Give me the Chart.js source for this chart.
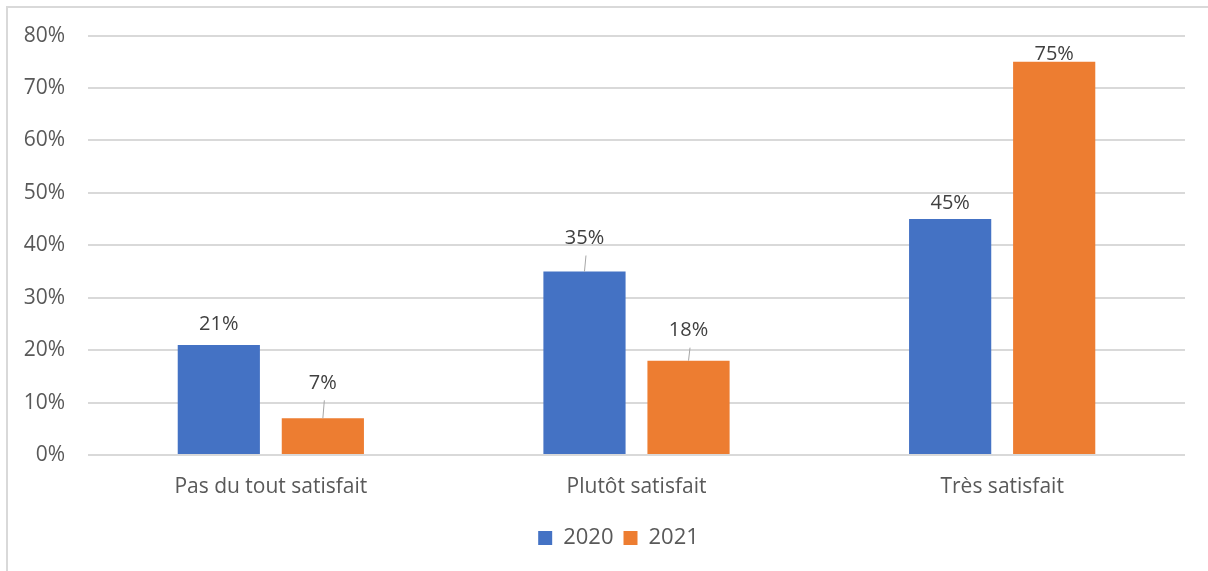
<!DOCTYPE html>
<html>
<head>
<meta charset="utf-8">
<script src="https://cdn.jsdelivr.net/npm/chart.js@4"></script>
<style>
  body { margin: 0; background: #fff; overflow: hidden; }
  #frame {
    position: absolute; left: 6px; top: 6px; width: 1210px; height: 570px;
    border-left: 2px solid #d9d9d9; border-top: 2px solid #d9d9d9;
  }
  #wrap { position: absolute; left: 0; top: 0; width: 1208px; height: 571px; }
</style>
</head>
<body>
<div id="frame"></div>
<div id="wrap"><canvas id="satChart"></canvas></div>
<script>
const categories = ['Pas du tout satisfait', 'Plutôt satisfait', 'Très satisfait'];
const years = ['2020', '2021'];
const values2020 = [21, 35, 45];
const values2021 = [7, 18, 75];
const yTicks = [0, 10, 20, 30, 40, 50, 60, 70, 80];

const colors = ['#4472C4', '#ED7D31'];
// how far each value label sits above its bar (px), per series
const labelLift = [[21, 33, 16], [35, 30, 8]];
const legendOffset = 26;

const FONT = '"Open Sans", "Noto Sans", sans-serif';

const valueLabels = {
  id: 'valueLabels',
  afterDatasetsDraw(chart) {
    const ctx = chart.ctx;
    ctx.save();
    ctx.font = '20px ' + FONT;
    ctx.fillStyle = '#404040';
    ctx.textAlign = 'center';
    ctx.textBaseline = 'middle';
    chart.data.datasets.forEach((ds, di) => {
      chart.getDatasetMeta(di).data.forEach((bar, i) => {
        const lift = labelLift[di][i];
        const y = bar.y - lift;
        if (lift > 25) {
          // leader line from label down to the bar
          ctx.beginPath();
          ctx.strokeStyle = '#a6a6a6';
          ctx.lineWidth = 1;
          ctx.moveTo(bar.x + 1.5, y + 17);
          ctx.lineTo(bar.x, bar.y);
          ctx.stroke();
        }
        ctx.fillText(ds.data[i] + '%', bar.x, y);
      });
    });
    ctx.restore();
  }
};

// nudge the legend right so it sits under the plot area
const legendShift = {
  id: 'legendShift',
  afterLayout(chart) {
    chart.legend.left += legendOffset;
    chart.legend.right += legendOffset;
  }
};

new Chart(document.getElementById('satChart'), {
  type: 'bar',
  data: {
    labels: categories,
    datasets: [
      { label: years[0], data: values2020, backgroundColor: colors[0] },
      { label: years[1], data: values2021, backgroundColor: colors[1] }
    ]
  },
  options: {
    responsive: true,
    maintainAspectRatio: false,
    animation: false,
    datasets: { bar: { categoryPercentage: 0.569, barPercentage: 0.79 } },
    layout: { padding: { top: 35, right: 23, bottom: 12, left: 0 } },
    scales: {
      x: {
        grid: { display: false },
        border: { display: false },
        ticks: { color: '#595959', font: { family: FONT, size: 21 }, padding: 11 },
        afterFit(scale) { scale.height = 62; }
      },
      y: {
        min: 0,
        max: 80,
        afterBuildTicks(scale) { scale.ticks = yTicks.map(v => ({ value: v })); },
        grid: { color: '#d9d9d9', lineWidth: 2, drawTicks: false },
        border: { display: false },
        ticks: {
          color: '#595959',
          font: { family: FONT, size: 21 },
          padding: 23,
          callback: v => v + '%'
        },
        afterFit(scale) { scale.width = 88; }
      }
    },
    plugins: {
      legend: {
        position: 'bottom',
        labels: {
          color: '#595959',
          font: { family: FONT, size: 22 },
          boxWidth: 14,
          boxHeight: 14,
          padding: 10
        }
      },
      tooltip: { enabled: false }
    }
  },
  plugins: [valueLabels, legendShift]
});
</script>
</body>
</html>
